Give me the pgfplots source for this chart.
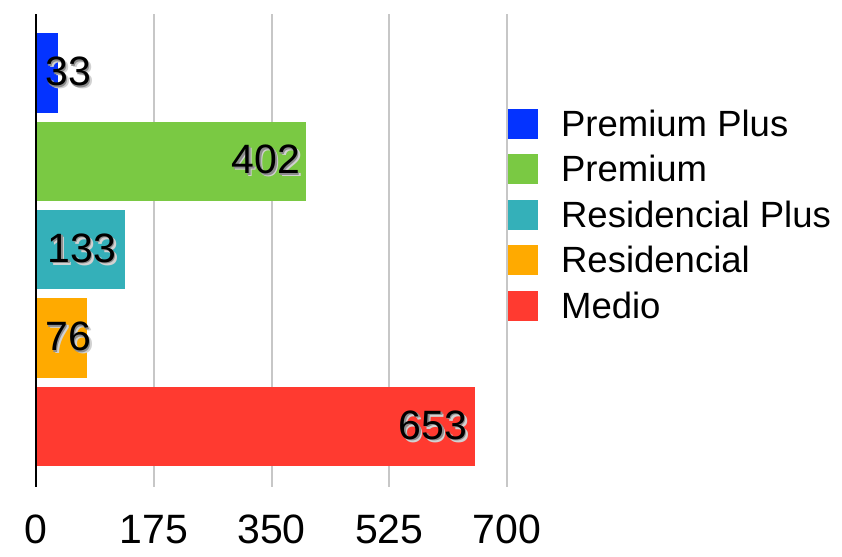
\documentclass[border=0pt]{standalone}
\usepackage{pgfplots}
\pgfplotsset{compat=1.18}
\usepackage{fontspec}
\setmainfont{Liberation Sans}
\definecolor{cPP}{RGB}{4,51,255}
\definecolor{cP}{RGB}{122,201,67}
\definecolor{cRP}{RGB}{52,176,185}
\definecolor{cR}{RGB}{255,170,0}
\definecolor{cM}{RGB}{255,58,48}
\newcommand{\shd}[1]{\makebox[0pt][l]{\kern3pt\raisebox{-3pt}{\textcolor{black!18}{#1}}}\makebox[0pt][l]{\kern1.5pt\raisebox{-1.5pt}{\textcolor{black!45}{#1}}}#1}
\begin{document}
\begin{tikzpicture}
\useasboundingbox (-36pt,-69pt) rectangle (806pt,487pt);
\begin{axis}[
  scale only axis,
  clip=false,
  width=471pt, height=473pt,
  xmin=0, xmax=700, ymin=0.316, ymax=5.667,
  xtick={0,175,350,525,700},
  ytick=\empty,
  major tick length=0pt,
  axis line style={draw=none},
  xmajorgrids,
  grid style={draw=black!22,line width=2pt},
  /pgf/number format/assume math mode=true,
  xticklabel style={font=\fontsize{41}{41}\selectfont, anchor=base, inner sep=0pt, yshift=-56pt},
  xbar, bar width=79.5pt, bar shift=0pt,
  point meta=x,
  nodes near coords={\shd{\pgfmathprintnumber\pgfplotspointmeta}},
  every node near coord/.append style={font=\fontsize{41}{41}\selectfont, inner sep=0pt, text=black},
  legend style={draw=none, fill=none, at={(1.002,0.80)}, anchor=north west, inner sep=0pt,
    font=\fontsize{36.5}{36.5}\selectfont, row sep=15.5pt, column sep=23pt,
    nodes={inner sep=0pt}},
  legend cell align=left,
  legend image code/.code={\fill[#1] (0pt,-15pt) rectangle (30pt,15pt);},
]
\addplot[fill=cPP, draw=none, every node near coord/.append style={anchor=west, xshift=-13pt}] coordinates {(33,5)};
\addlegendentry{Premium Plus}
\addplot[fill=cP, draw=none, every node near coord/.append style={anchor=east, xshift=-6pt}] coordinates {(402,4)};
\addlegendentry{Premium}
\addplot[fill=cRP, draw=none, every node near coord/.append style={anchor=west, xshift=-78pt}] coordinates {(133,3)};
\addlegendentry{Residencial Plus}
\addplot[fill=cR, draw=none, every node near coord/.append style={anchor=west, xshift=-42pt}] coordinates {(76,2)};
\addlegendentry{Residencial}
\addplot[fill=cM, draw=none, every node near coord/.append style={anchor=east, xshift=-8pt}] coordinates {(653,1)};
\addlegendentry{Medio}
\draw[black, line width=2.2pt] (rel axis cs:0,0) -- (rel axis cs:0,1);
\end{axis}
\end{tikzpicture}
\end{document}
